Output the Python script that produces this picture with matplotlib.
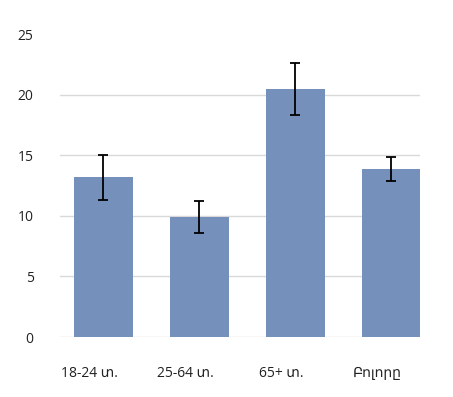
import numpy as np
import matplotlib
matplotlib.use("Agg")
import matplotlib.pyplot as plt
import matplotlib.transforms as mtransforms

plt.rcParams['font.family'] = ['Open Sans', 'DejaVu Sans']

# data
groups = ["18-24 տ.", "25-64 տ.", "65+ տ.", "Բոլորը"]
values = [13.2, 9.9, 20.5, 13.85]
errors = [1.85, 1.35, 2.15, 1.0]
yticks = [0, 5, 10, 15, 20, 25]

fig = plt.figure(figsize=(4.53, 3.97), dpi=100)
ax = fig.add_axes([0.1325, 0.151, 0.7945, 0.763])

x = np.arange(len(groups))
ax.bar(x, values, width=0.615, color="#7590BA", zorder=2)
ax.errorbar(x, values, yerr=errors, fmt="none", ecolor="black",
            elinewidth=1.3, capsize=3.5, capthick=1.3, zorder=3)

ax.set_xlim(-0.448, 3.30)
ax.set_ylim(0, 25)
ax.set_yticks(yticks)
ax.set_xticks(x)
ax.set_xticklabels(groups)

ax.grid(axis="y", color="#d9d9d9", linewidth=1, zorder=0)
ax.set_axisbelow(True)
ax.yaxis.get_gridlines()[-1].set_visible(False)
for s in ax.spines.values():
    s.set_visible(False)
ax.tick_params(axis="both", length=0, labelsize=10, colors="#222222")
ax.tick_params(axis="y", pad=19)
ax.tick_params(axis="x", pad=21)

# labels sit a bit left of the bar centres in the original
offset = mtransforms.ScaledTranslation(-14 / 100, 0, fig.dpi_scale_trans)
for lbl in ax.get_xticklabels():
    lbl.set_transform(lbl.get_transform() + offset)

plt.savefig("out.png", dpi=100)
